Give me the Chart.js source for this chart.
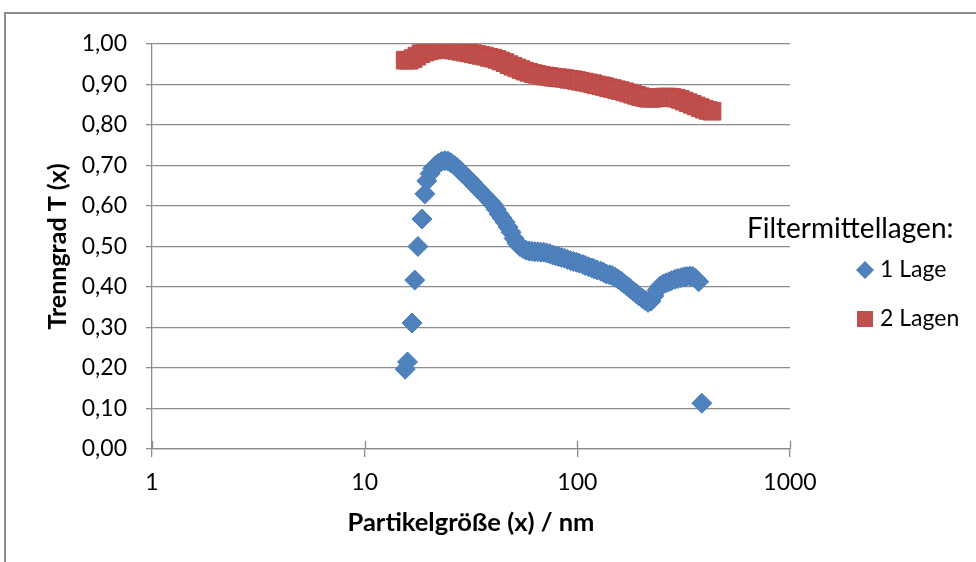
<!DOCTYPE html>
<html>
<head>
<meta charset="utf-8">
<script src="https://cdn.jsdelivr.net/npm/chart.js@4/dist/chart.umd.min.js"></script>
<style>
  html, body { margin: 0; padding: 0; background: #fff; }
  #wrap { width: 976px; height: 562px; }
</style>
</head>
<body>
<div id="wrap"><canvas id="chart" width="976" height="562"></canvas></div>
<script>
// values
const xTicks = [1, 10, 100, 1000];
const seriesNames = ["1 Lage", "2 Lagen"];
const legendTitle = "Filtermittellagen:";
const xTitle = "Partikelgröße (x) / nm";
const yTitle = "Trenngrad T (x)";

const lage1X = [15.5, 15.9, 16.7, 17.2, 17.8, 18.6, 19.2, 19.6, 20.3, 20.9, 21.6, 22.3, 23.0, 23.8, 24.6,
  25.4, 26.3, 27.2, 28.0, 29.0, 30.0, 31.0, 32.0, 33.0, 34.2, 35.3, 36.5, 37.7, 38.9, 40.2,
  41.5, 42.9, 44.3, 45.7, 47.2, 48.8, 50.4, 52.0, 53.7, 55.5, 57.3, 59.2, 61.1, 63.1, 65.2,
  67.3, 69.5, 71.8, 74.1, 76.6, 79.1, 81.6, 84.3, 87.1, 89.9, 92.9, 95.9, 99.0, 102, 106,
  109, 113, 117, 120, 124, 129, 133, 137, 142, 146, 151, 156, 161, 166, 172,
  177, 183, 189, 195, 202, 208, 215, 222, 229, 237, 245, 253, 261, 270, 278,
  288, 297, 307, 317, 327, 338, 349, 360, 372, 385];
const lage1Y = [0.197, 0.215, 0.311, 0.417, 0.500, 0.568, 0.630, 0.662, 0.680, 0.693, 0.700, 0.706, 0.710, 0.712, 0.711,
  0.707, 0.701, 0.695, 0.688, 0.680, 0.673, 0.666, 0.658, 0.650, 0.642, 0.634, 0.627, 0.619, 0.611, 0.603,
  0.592, 0.580, 0.570, 0.560, 0.548, 0.535, 0.520, 0.508, 0.500, 0.495, 0.491, 0.489, 0.488, 0.487, 0.487,
  0.486, 0.486, 0.484, 0.482, 0.479, 0.477, 0.475, 0.473, 0.471, 0.468, 0.465, 0.463, 0.461, 0.459, 0.456,
  0.453, 0.450, 0.447, 0.445, 0.442, 0.439, 0.436, 0.432, 0.430, 0.428, 0.424, 0.419, 0.414, 0.408, 0.402,
  0.396, 0.390, 0.384, 0.378, 0.372, 0.367, 0.362, 0.365, 0.378, 0.392, 0.402, 0.407, 0.410, 0.413, 0.416,
  0.419, 0.421, 0.423, 0.425, 0.426, 0.427, 0.426, 0.421, 0.413, 0.113];

const lagen2X = [15.5, 16.2, 16.9, 17.6, 18.4, 19.2, 20.0, 20.9, 21.8, 22.8, 23.8, 24.9, 26.0, 27.1, 28.3,
  29.6, 30.9, 32.3, 33.7, 35.2, 36.7, 38.4, 40.1, 41.9, 43.7, 45.7, 47.7, 49.8, 52.0, 54.3,
  56.7, 59.2, 61.8, 64.5, 67.3, 70.3, 73.4, 76.6, 80.0, 83.5, 87.1, 91.0, 95.0, 99.0, 103,
  108, 113, 118, 123, 129, 134, 140, 146, 153, 159, 167, 174, 182, 190, 198,
  207, 216, 225, 235, 245, 256, 268, 279, 292, 305, 318, 332, 347, 362, 378,
  395, 412, 430];
const lagen2Y = [0.960, 0.960, 0.964, 0.970, 0.976, 0.980, 0.983, 0.985, 0.986, 0.987, 0.987, 0.986, 0.985, 0.984, 0.982,
  0.980, 0.978, 0.976, 0.974, 0.972, 0.970, 0.967, 0.965, 0.962, 0.958, 0.954, 0.949, 0.945, 0.941, 0.937,
  0.933, 0.930, 0.927, 0.925, 0.923, 0.921, 0.920, 0.918, 0.917, 0.916, 0.915, 0.913, 0.912, 0.910, 0.908,
  0.906, 0.904, 0.902, 0.899, 0.897, 0.895, 0.892, 0.890, 0.887, 0.885, 0.882, 0.879, 0.876, 0.873, 0.870,
  0.868, 0.866, 0.866, 0.867, 0.868, 0.869, 0.869, 0.868, 0.866, 0.863, 0.859, 0.855, 0.851, 0.847, 0.843,
  0.839, 0.836, 0.834];

const BLUE = "#4f81bd", BLUE_EDGE = "#4a7ebb";
const RED = "#c0504d", RED_EDGE = "#be4b48";
const GRID = "#8c8c8c";
const FONT = "Lato";

// frame, crossing ticks on the x axis and the legend on the right
const excelBits = {
  id: "excelBits",
  beforeDraw(chart) {
    const ctx = chart.ctx;
    ctx.save();
    ctx.strokeStyle = GRID;
    ctx.lineWidth = 2;
    ctx.beginPath();
    ctx.moveTo(5, 562);
    ctx.lineTo(5, 13);
    ctx.lineTo(976, 13);
    ctx.stroke();
    ctx.restore();
  },
  beforeDatasetsDraw(chart) {
    const ctx = chart.ctx, xs = chart.scales.x, base = chart.chartArea.bottom;
    ctx.save();
    ctx.strokeStyle = GRID;
    ctx.lineWidth = 1.3;
    xTicks.forEach(v => {
      const px = Math.round(xs.getPixelForValue(v)) + 0.5;
      ctx.beginPath();
      ctx.moveTo(px, base - 8);
      ctx.lineTo(px, base);
      ctx.stroke();
    });
    ctx.restore();
  },
  afterDraw(chart) {
    const ctx = chart.ctx;
    ctx.save();
    ctx.fillStyle = "#000";
    ctx.textBaseline = "middle";
    ctx.font = "28px " + FONT;
    ctx.fillText(legendTitle, 747, 229);
    ctx.font = "23px " + FONT;
    ctx.fillText(seriesNames[0], 880, 270);
    ctx.fillText(seriesNames[1], 880, 319);
    // diamond
    ctx.fillStyle = BLUE;
    ctx.beginPath();
    ctx.moveTo(865, 261); ctx.lineTo(874, 270); ctx.lineTo(865, 279); ctx.lineTo(856, 270);
    ctx.closePath();
    ctx.fill();
    // square
    ctx.fillStyle = RED;
    ctx.fillRect(857, 311, 16, 16);
    ctx.restore();
  }
};

const ctx = document.getElementById("chart").getContext("2d");
new Chart(ctx, {
  type: "scatter",
  data: {
    datasets: [{
      label: seriesNames[0],
      data: lage1X.map((x, i) => ({ x: x, y: lage1Y[i] })),
      pointStyle: "rectRot",
      pointRadius: 10,
      pointHoverRadius: 10,
      backgroundColor: BLUE,
      borderColor: BLUE_EDGE,
      borderWidth: 1
    }, {
      label: seriesNames[1],
      data: lagen2X.map((x, i) => ({ x: x, y: lagen2Y[i] })),
      pointStyle: "rect",
      pointRadius: 12.5,
      pointHoverRadius: 12.5,
      backgroundColor: RED,
      borderColor: RED_EDGE,
      borderWidth: 1
    }]
  },
  options: {
    responsive: false,
    animation: false,
    devicePixelRatio: 1,
    layout: { padding: { top: 44, right: 186, left: 0, bottom: 0 } },
    plugins: {
      legend: { display: false },
      tooltip: { enabled: false }
    },
    scales: {
      x: {
        type: "logarithmic",
        min: 1,
        max: 1000,
        afterBuildTicks: s => { s.ticks = xTicks.map(v => ({ value: v })); },
        afterFit: s => { s.height = 113; },
        ticks: {
          callback: v => String(v),
          autoSkip: false,
          maxRotation: 0,
          padding: 12,
          color: "#000",
          font: { family: FONT, size: 23 }
        },
        grid: { drawOnChartArea: false, color: GRID, lineWidth: 1.3, tickLength: 8 },
        border: { color: GRID, width: 1.3 },
        title: {
          display: true,
          text: xTitle,
          color: "#000",
          font: { family: FONT, size: 25.5, weight: "bold" },
          padding: { top: 0, bottom: 24 }
        }
      },
      y: {
        min: 0,
        max: 1,
        afterFit: s => { s.width = 152; },
        ticks: {
          stepSize: 0.1,
          callback: v => v.toFixed(2).replace(".", ","),
          padding: 19,
          color: "#000",
          font: { family: FONT, size: 23 }
        },
        grid: { color: GRID, lineWidth: 1.3, tickLength: 6 },
        border: { color: GRID, width: 1.3 },
        title: {
          display: true,
          text: yTitle,
          color: "#000",
          font: { family: FONT, size: 25, weight: "bold" },
          padding: { top: 43, bottom: 0 }
        }
      }
    }
  },
  plugins: [excelBits]
});
</script>
</body>
</html>
